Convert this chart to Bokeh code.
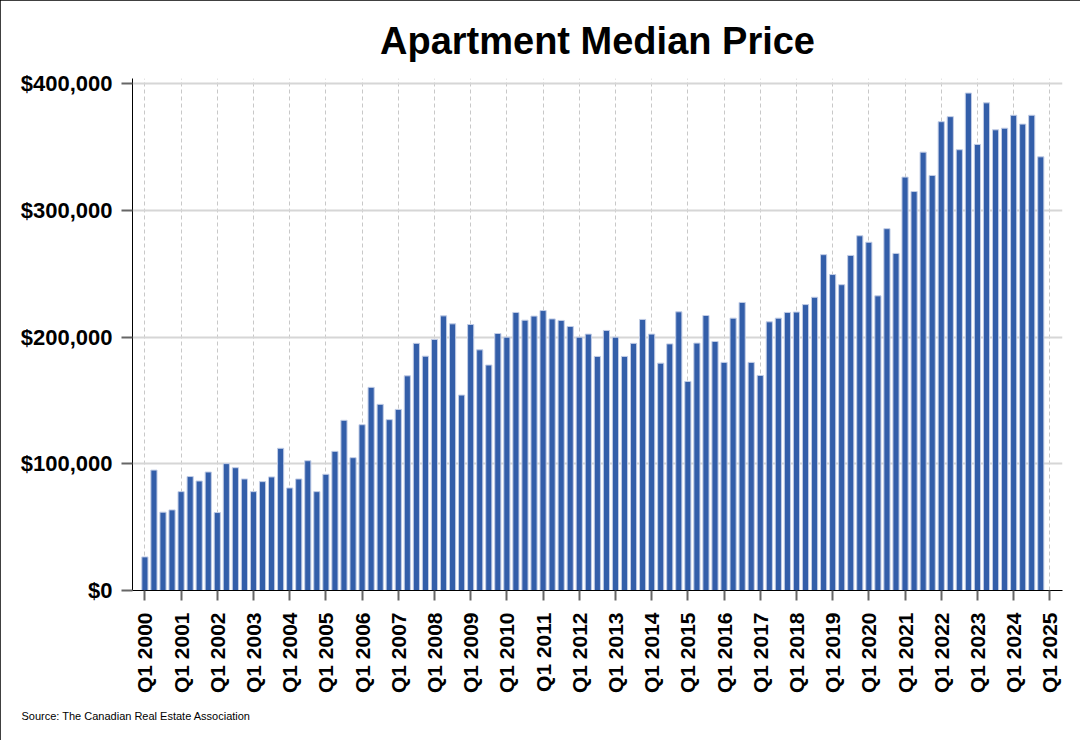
from bokeh.plotting import figure
from bokeh.models import (Range1d, FixedTicker, NumeralTickFormatter, Title, ColumnDataSource)
from bokeh.embed import file_html
from bokeh.resources import INLINE
import math

# ---------------- data ----------------
years = list(range(2000, 2025))
quarters = [f"Q{q} {y}" for y in years for q in (1, 2, 3, 4)]

prices = [
    26500, 95000, 61800, 63600, 78000, 89900, 86400, 93500,
    61500, 100100, 96900, 88000, 78000, 85900, 89600, 112200,
    80900, 88000, 102400, 78000, 91700, 109800, 134300, 104800,
    130800, 160300, 146900, 134800, 142900, 169400, 195000, 184900,
    198100, 216700, 210400, 154200, 209900, 189900, 177900, 202800,
    199900, 219400, 213300, 216500, 220900, 214300, 213100, 208300,
    199900, 202300, 184700, 205200, 199900, 184700, 195000, 213900,
    202300, 179400, 194600, 219900, 165000, 195200, 217000, 196500,
    180000, 214900, 227300, 180000, 169700, 212000, 214900, 219400,
    219700, 225600, 231400, 265000, 249300, 241300, 264400, 279900,
    274800, 232500, 285500, 266000, 326200, 314800, 345900, 327500,
    369900, 373900, 347800, 392500, 352000, 384800, 363500, 364800,
    375000, 368000, 375000, 342200,
]

tick_labels = [f"Q1 {y}" for y in range(2000, 2026)]
y_ticks = [0, 100000, 200000, 300000, 400000]

title_text = "Apartment Median Price"
source_text = "Source: The Canadian Real Estate Association"

# ---------------- figure ----------------
src = ColumnDataSource(dict(idx=list(range(len(quarters))), quarter=quarters, price=prices))

p = figure(
    width=1080, height=740,
    output_backend="svg", toolbar_location=None,
    x_range=Range1d(-1.37, 101.4), y_range=Range1d(0, 404000),
    min_border_left=132, min_border_right=18,
    min_border_top=77, min_border_bottom=150,
    title=title_text,
)
p.styles = {"outline": "1px solid black", "outline-offset": "-1px"}
p.outline_line_color = None
p.background_fill_color = "white"
p.border_fill_color = "white"

p.title.align = "center"
p.title.text_font = "Liberation Sans"
p.title.text_font_size = "38px"
p.title.text_font_style = "bold"
p.title.text_color = "black"
p.title.standoff = 34

p.vbar(x="idx", top="price", width=0.68, bottom=0, source=src,
       fill_color="#335EA9", line_color="#c2cde6", line_width=1)

# x axis
xa = p.xaxis[0]
xa.ticker = FixedTicker(ticks=[4 * i for i in range(len(tick_labels))])
xa.major_label_overrides = {4 * i: lab for i, lab in enumerate(tick_labels)}
xa.major_label_orientation = math.pi / 2
xa.major_label_text_font = "Liberation Sans"
xa.major_label_text_font_size = "21px"
xa.major_label_text_font_style = "bold"
xa.major_label_text_color = "black"
xa.major_label_standoff = 12
xa.major_tick_in = 0
xa.major_tick_out = 10
xa.major_tick_line_color = "#666666"
xa.major_tick_line_width = 2
xa.minor_tick_line_color = None
xa.axis_line_color = "black"
xa.axis_line_width = 1

# y axis
ya = p.yaxis[0]
ya.ticker = FixedTicker(ticks=y_ticks)
ya.formatter = NumeralTickFormatter(format="$0,0")
ya.major_label_text_font = "Liberation Sans"
ya.major_label_text_font_size = "22px"
ya.major_label_text_font_style = "bold"
ya.major_label_text_color = "black"
ya.major_label_standoff = 9
ya.major_tick_in = 0
ya.major_tick_out = 11
ya.major_tick_line_color = "#666666"
ya.major_tick_line_width = 2
ya.minor_tick_line_color = None
ya.axis_line_color = "black"
ya.axis_line_width = 1

# grids
p.xgrid.grid_line_color = "#c8c8c8"
p.xgrid.grid_line_dash = "4 3"
p.xgrid.grid_line_width = 1
p.ygrid.grid_line_color = "#d6d6d6"
p.ygrid.grid_line_width = 2

# source note
p.add_layout(Title(text=source_text, align="left", offset=-111,
                   text_font="Liberation Sans", text_font_size="11px",
                   text_font_style="normal", text_color="black",
                   standoff=22), "below")

open("out.html", "w").write(file_html(p, INLINE))
